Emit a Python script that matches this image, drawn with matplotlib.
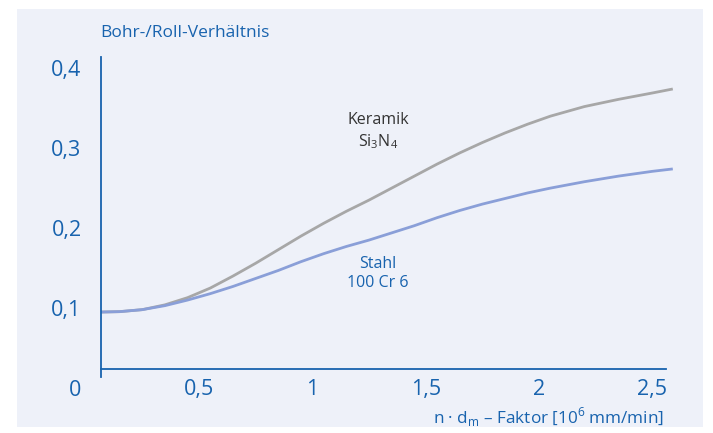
import matplotlib; matplotlib.use("Agg")
import matplotlib.pyplot as plt
from matplotlib.patches import Rectangle

plt.rcParams['font.family'] = ['Open Sans', 'DejaVu Sans']
plt.rcParams['mathtext.fontset'] = 'custom'
plt.rcParams['mathtext.rm'] = 'Open Sans'

BLUE = "#1863ae"
BG = "#eef1f9"
GRAY = "#a7a7a7"
LAV = "#8a9fd8"

# values
x_ker = [0.068, 0.15, 0.25, 0.35, 0.45, 0.55, 0.65, 0.75, 0.85, 0.95, 1.05, 1.15, 1.25, 1.35, 1.45,
         1.55, 1.65, 1.75, 1.85, 1.95, 2.05, 2.2, 2.35, 2.5, 2.59]
y_ker = [0.095, 0.0955, 0.098, 0.104, 0.113, 0.125, 0.140, 0.156, 0.173, 0.190, 0.206, 0.221, 0.235, 0.250, 0.265,
         0.280, 0.294, 0.307, 0.319, 0.330, 0.340, 0.352, 0.361, 0.369, 0.374]
x_st = [0.068, 0.15, 0.25, 0.35, 0.45, 0.55, 0.65, 0.75, 0.85, 0.95, 1.05, 1.15, 1.25, 1.35, 1.45,
        1.55, 1.65, 1.75, 1.85, 1.95, 2.05, 2.2, 2.35, 2.5, 2.59]
y_st = [0.095, 0.0955, 0.098, 0.103, 0.110, 0.118, 0.127, 0.137, 0.147, 0.158, 0.168, 0.177, 0.185, 0.194, 0.203,
        0.213, 0.222, 0.230, 0.237, 0.244, 0.250, 0.258, 0.265, 0.271, 0.274]

xticks = [0.5, 1, 1.5, 2, 2.5]
xtick_labels = ["0,5", "1", "1,5", "2", "2,5"]
yticks = [0, 0.1, 0.2, 0.3, 0.4]
ytick_labels = ["0", "0,1", "0,2", "0,3", "0,4"]

fig = plt.figure(figsize=(7.13, 4.33), dpi=100)
fig.patches.append(Rectangle((17/713, 6/433), 686/713, 418/433, transform=fig.transFigure,
                             facecolor=BG, edgecolor="none", zorder=-10))

ax = fig.add_axes([101/713, 45/433, 565/713, 331/433])
ax.set_facecolor("none")
ax.plot(x_ker, y_ker, color=GRAY, lw=2.0, clip_on=False, solid_capstyle="butt", solid_joinstyle="round")
ax.plot(x_st, y_st, color=LAV, lw=2.0, clip_on=False, solid_capstyle="butt", solid_joinstyle="round")

ax.set_xlim(0.068, 2.56)
ax.set_ylim(0, 0.414)
for s in ["top", "right"]:
    ax.spines[s].set_visible(False)
ax.spines["bottom"].set_position(("data", 0.024))
ax.spines["left"].set_bounds(0.0138, 0.414)
for s in ["bottom", "left"]:
    ax.spines[s].set_color(BLUE)
    ax.spines[s].set_linewidth(1.3)

ax.set_xticks(xticks, xtick_labels)
ax.set_yticks(yticks, ytick_labels)
ax.tick_params(axis="x", length=0, pad=7, labelsize=15.5, labelcolor=BLUE)
ax.tick_params(axis="y", length=0, pad=14, labelsize=15.5, labelcolor=BLUE)

ax.text(1.29, 0.335, "Keramik", ha="center", va="center", fontsize=11.5, color="#333333")
ax.text(1.29, 0.3075, r"Si$_\mathregular{3}$N$_\mathregular{4}$", ha="center", va="center", fontsize=11.5, color="#333333")
ax.text(1.29, 0.155, "Stahl", ha="center", va="center", fontsize=11.5, color=BLUE)
ax.text(1.29, 0.131, "100 Cr 6", ha="center", va="center", fontsize=11.5, color=BLUE)

fig.text(100/713, 1 - 33/433, "Bohr-/Roll-Verhältnis", ha="left", va="center", fontsize=12.5, color=BLUE)
fig.text(664/713, 1 - 417/433, r"n · d$_\mathregular{m}$ – Faktor [10$^\mathregular{6}$ mm/min]",
         ha="right", va="center", fontsize=12.3, color=BLUE)

fig.savefig("out.png", dpi=100)
